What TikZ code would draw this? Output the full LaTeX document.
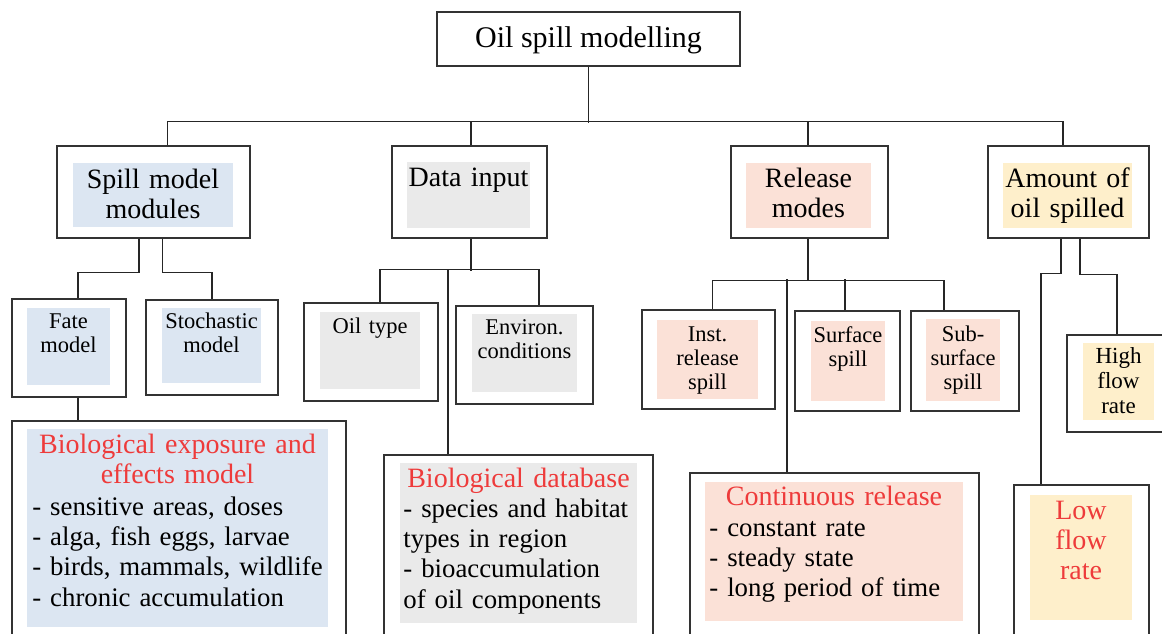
\documentclass[tikz,border=0pt]{standalone}
\usepackage{fontspec}
\setmainfont{LiberationSerif}[Extension=.ttf,UprightFont=*-Regular,BoldFont=*-Bold]
\usepackage{tikz}
\usetikzlibrary{calc}
\definecolor{bluefill}{HTML}{DCE6F2}
\definecolor{greyfill}{HTML}{EAEAEA}
\definecolor{pinkfill}{HTML}{FBE1D7}
\definecolor{yellowfill}{HTML}{FEEFCB}
\definecolor{redtxt}{HTML}{EE3B3B}
\tikzstyle{box}=[draw=black!80,fill=white,line width=0.7pt,inner sep=0pt]
\tikzstyle{link}=[draw=black!85,line width=0.7pt]
\tikzstyle{toptext}=[font=\fontsize{15}{16}\selectfont,inner sep=0pt,anchor=base]
\tikzstyle{lvlone}=[font=\fontsize{14}{15}\selectfont,align=center,inner sep=0pt,anchor=base]
\tikzstyle{lvltwo}=[font=\fontsize{11.25}{12}\selectfont,align=center,inner sep=0pt,anchor=base]
\tikzstyle{title}=[font=\fontsize{14}{15.2}\selectfont,inner sep=0pt,align=center,anchor=base,text=redtxt]
\tikzstyle{list}=[font=\fontsize{13.4}{15.2}\selectfont,inner sep=0pt,align=left,anchor=base west]

\begin{document}
\begin{tikzpicture}[x=0.5pt,y=-0.5pt]
    \clip (0,0) rectangle (1162,633);
    % First we draw the frames
    \foreach \pos/\name/\w/\h in {{(588.5,39)/top/303/54},
        {(153.5,192)/spill/193/92},{(469.5,192)/data/155/92},
        {(809.5,192)/release/157/92},{(1068.5,192)/amount/161/92},
        {(69,348)/fate/114/98},{(212,347.5)/stoch/132/95},
        {(371,352)/oiltype/134/98},{(524.5,355)/environ/137/98},
        {(708.5,359.5)/inst/133/99},{(847.5,361)/surface/105/100},
        {(965,361)/subsurf/108/100},{(1118.5,383.5)/high/103/97},
        {(179,533)/bioexp/334/224},{(518.5,550)/biodb/269/190},
        {(834.5,559)/cont/289/172},{(1081.5,565)/low/135/160}}
        \node[box,minimum width=\w*0.5pt,minimum height=\h*0.5pt] (\name) at \pos {};

    % Then the coloured panels inside them
    \foreach \xa/\ya/\xb/\yb/\col in {73/163/233/227/bluefill,
        407/162/530/228/greyfill, 746/163/871/228/pinkfill,
        1003/163/1132/228/yellowfill, 27/308/110/385/bluefill,
        162/308/261/383/bluefill, 320/312/420/389/greyfill,
        472/314/577/392/greyfill, 657/320/758/399/pinkfill,
        811/321/885/401/pinkfill, 926/319/1000/401/pinkfill,
        1083/343/1154/420/yellowfill, 27/429/328/627/bluefill,
        400/463/637/623/greyfill, 705/482/963/621/pinkfill,
        1030/495/1132/620/yellowfill}
        \fill[\col] (\xa,\ya) rectangle (\xb,\yb);

    % Connect the frames
    \path[link] (top.south) -- ++(0,56);
    \path[link] ([xshift=7pt]spill.north) -- ++(0,-24) -| ([xshift=-2.75pt]amount.north);
    \path[link] ([xshift=0.75pt]data.north) -- ++(0,-24);
    \path[link] ([xshift=-0.75pt]release.north) -- ++(0,-24);

    \path[link] ([xshift=-7.25pt]spill.south) -- ++(0,34) -| ([xshift=4.5pt]fate.north);
    \path[link] ([xshift=4.5pt]spill.south) -- ++(0,34) -| (stoch.north);
    \path[link] ([xshift=4.5pt]fate.south) -- ([xshift=4.5pt]fate.south |- bioexp.north);

    \path[link] ([xshift=0.75pt]data.south) -- ++(0,32);
    \path[link] ([xshift=4.5pt]oiltype.north) -- ++(0,-33) -| ([xshift=7.25pt]environ.north);
    \path[link] ([xshift=-35.25pt]biodb.north) -- ++(0,-185);

    \path[link] ([xshift=-0.75pt]release.south) -- ++(0,42);
    \path[link] ([xshift=2pt]inst.north) -- ++(0,-29) -| ([xshift=-10.5pt]subsurf.north);
    \path[link] ([xshift=-1.25pt]surface.north) -- ++(0,-31);
    \path[link] ([xshift=-23.75pt]cont.north) -- ++(0,-193);

    \path[link] ([xshift=-3.75pt]amount.south) -- ++(0,35) -| ([xshift=-20.25pt]low.north);
    \path[link] ([xshift=5.75pt]amount.south) -- ++(0,36) -| ([xshift=-0.75pt]high.north);

    % Labels
    \node[toptext] (toptxt) at (588.5,47) {Oil spill modelling};
    \node[lvlone,text width=80pt] (spilltxt) at (153,188) {Spill model\\modules};
    \node[lvlone,text width=62pt] (datatxt) at (468.5,186) {Data input};
    \node[lvlone,text width=62pt] (reltxt) at (808.5,187) {Release\\modes};
    \node[lvlone,text width=66pt] (amttxt) at (1067.5,187) {Amount of\\oil spilled};

    \node[lvltwo,text width=42pt] (fatetxt) at (68.5,328) {Fate\\model};
    \node[lvltwo,text width=50pt] (stochtxt) at (211.5,328) {Stochastic\\model};
    \node[lvltwo,text width=50pt] (oiltxt) at (370,333) {Oil type};
    \node[lvltwo,text width=53pt] (envtxt) at (524.5,334) {Environ.\\conditions};
    \node[lvltwo,text width=50pt] (insttxt) at (707.5,341) {Inst.\\release\\spill};
    \node[lvltwo,text width=38pt] (surftxt) at (848,342) {Surface\\spill};
    \node[lvltwo,text width=38pt] (subtxt) at (963,341) {Sub-\\surface\\spill};
    \node[lvltwo,font=\fontsize{11.5}{12.5}\selectfont,text width=36pt] (hightxt) at (1118.5,363) {High\\flow\\rate};

    \node[title,text width=152pt] (bioexptitle) at (177.5,453) {Biological exposure and\\effects model};
    \node[list,text width=160pt] (bioexplist) at (32,515) {- sensitive areas, doses\\- alga, fish eggs, larvae\\- birds, mammals, wildlife\\- chronic accumulation};
    \node[title,text width=118pt] (biodbtitle) at (518.5,487) {Biological database};
    \node[list,text width=125pt] (biodblist) at (403,517) {- species and habitat\\types in region\\- bioaccumulation\\of oil components};
    \node[title,text width=128pt] (conttitle) at (834,505) {Continuous release};
    \node[list,text width=128pt] (contlist) at (709,536) {- constant rate\\- steady state\\- long period of time};
    \node[title,text width=50pt] (lowtxt) at (1081,519) {Low\\flow\\rate};
\end{tikzpicture}
\end{document}
